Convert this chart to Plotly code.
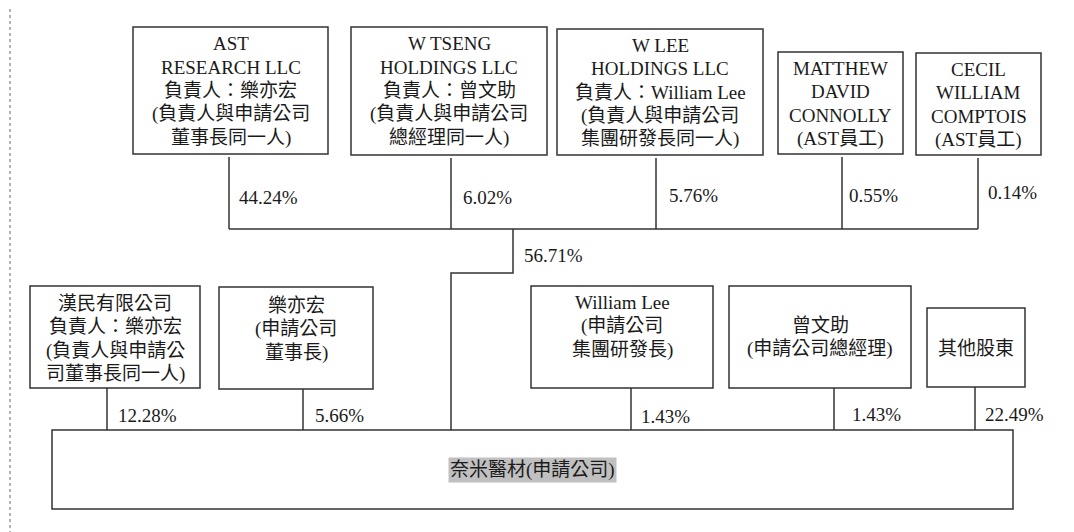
import plotly.graph_objects as go

# shareholders of the applicant company
top_holders = [
    ["AST", "RESEARCH LLC", "負責人：樂亦宏", "(負責人與申請公司", "董事長同一人)"],
    ["W TSENG", "HOLDINGS LLC", "負責人：曾文助", "(負責人與申請公司", "總經理同一人)"],
    ["W LEE", "HOLDINGS LLC", "負責人：William Lee", "(負責人與申請公司", "集團研發長同一人)"],
    ["MATTHEW", "DAVID", "CONNOLLY", "(AST員工)"],
    ["CECIL", "WILLIAM", "COMPTOIS", "(AST員工)"],
]
top_pct = ["44.24%", "6.02%", "5.76%", "0.55%", "0.14%"]
group_pct = "56.71%"

bottom_holders = [
    ["漢民有限公司", "負責人：樂亦宏", "(負責人與申請公", "司董事長同一人)"],
    ["樂亦宏", "(申請公司", "董事長)"],
    ["William Lee", "(申請公司", "集團研發長)"],
    ["曾文助", "(申請公司總經理)"],
    ["其他股東"],
]
bottom_pct = ["12.28%", "5.66%", "1.43%", "1.43%", "22.49%"]
target = "奈米醫材(申請公司)"

# layout in page pixels (x0, x1, y0, y1)
top_boxes = [(133, 328, 27, 154), (351, 547, 27, 155), (557, 763, 29, 155),
             (778, 903, 52, 154), (916, 1041, 53, 155)]
top_stems = [229, 451, 656, 842, 978]
top_first_line = [43.5, 43.5, 45, 68, 69]
top_pct_pos = [(237, 197), (461, 197), (667, 195), (847, 195), (986, 192)]
bar_y = 229

bottom_boxes = [(30, 200, 286, 388), (219, 373, 287, 389), (531, 713, 286, 388),
                (729, 911, 286, 388), (927, 1025, 308, 387)]
bottom_stems = [107, 303, 631, 834, 975]
bottom_first_line = [303, 305, 302, 325, 348]
bottom_pct_pos = [(116, 415), (313, 415), (639, 416), (850, 414), (983, 414)]

main_box = (52, 1013, 430, 509)
group_x, group_elbow_y, group_drop_x = 513, 273, 451

FONT = "Liberation Serif, Times New Roman, Noto Sans CJK TC, serif"
INK = "#333333"
W, H = 1074, 532
OFF = 8  # page body margin

shapes = []
annotations = []


def box(x0, x1, y0, y1):
    shapes.append(dict(type="rect", x0=x0, x1=x1, y0=y0, y1=y1,
                       line=dict(color=INK, width=1.5), fillcolor="rgba(0,0,0,0)"))


def poly(points, color=INK, width=1.5, dash="solid"):
    path = "M " + " L ".join(f"{x},{y}" for x, y in points)
    shapes.append(dict(type="path", path=path, line=dict(color=color, width=width, dash=dash)))


def text(x, y, s, anchor="center", size=19, **kw):
    annotations.append(dict(x=x, y=y, text=s, showarrow=False, xanchor=anchor, yanchor="middle",
                            font=dict(family=FONT, size=size, color="#1a1a1a"), **kw))


# page frame (dotted)
poly([(10, 540), (10, 2), (1070, 2), (1070, 540)], color="#9a9a9a", width=1.5, dash="dot")

# top row
for lines, b, sx, fy, p, pp in zip(top_holders, top_boxes, top_stems, top_first_line, top_pct, top_pct_pos):
    box(*b)
    poly([(sx, b[3] + 3), (sx, bar_y)])
    cx = (b[0] + b[1]) / 2
    for i, s in enumerate(lines):
        text(cx, fy + i * 23.6, s)
    text(pp[0], pp[1], p, anchor="left")

poly([(top_stems[0], bar_y), (top_stems[-1], bar_y)])
poly([(group_x, bar_y), (group_x, group_elbow_y), (group_drop_x, group_elbow_y),
      (group_drop_x, main_box[2])])
text(group_x + 9, 255, group_pct, anchor="left")

# bottom row
for lines, b, sx, fy, p, pp in zip(bottom_holders, bottom_boxes, bottom_stems, bottom_first_line,
                                   bottom_pct, bottom_pct_pos):
    box(*b)
    poly([(sx, b[3]), (sx, main_box[2])])
    cx = (b[0] + b[1]) / 2
    for i, s in enumerate(lines):
        text(cx, fy + i * 23.8, s)
    text(pp[0], pp[1], p, anchor="left")

# applicant company
box(*main_box)
text((main_box[0] + main_box[1]) / 2, (main_box[2] + main_box[3]) / 2, target,
     bgcolor="#c0c0c0", borderpad=1)

fig = go.Figure()
fig.update_layout(
    width=W, height=H, autosize=False,
    margin=dict(l=0, r=0, t=0, b=0),
    paper_bgcolor="white", plot_bgcolor="white",
    xaxis=dict(range=[OFF, W + OFF], visible=False, fixedrange=True),
    yaxis=dict(range=[H + OFF, OFF], visible=False, fixedrange=True),
    shapes=shapes, annotations=annotations,
    showlegend=False,
)
fig.write_html("out.html")
